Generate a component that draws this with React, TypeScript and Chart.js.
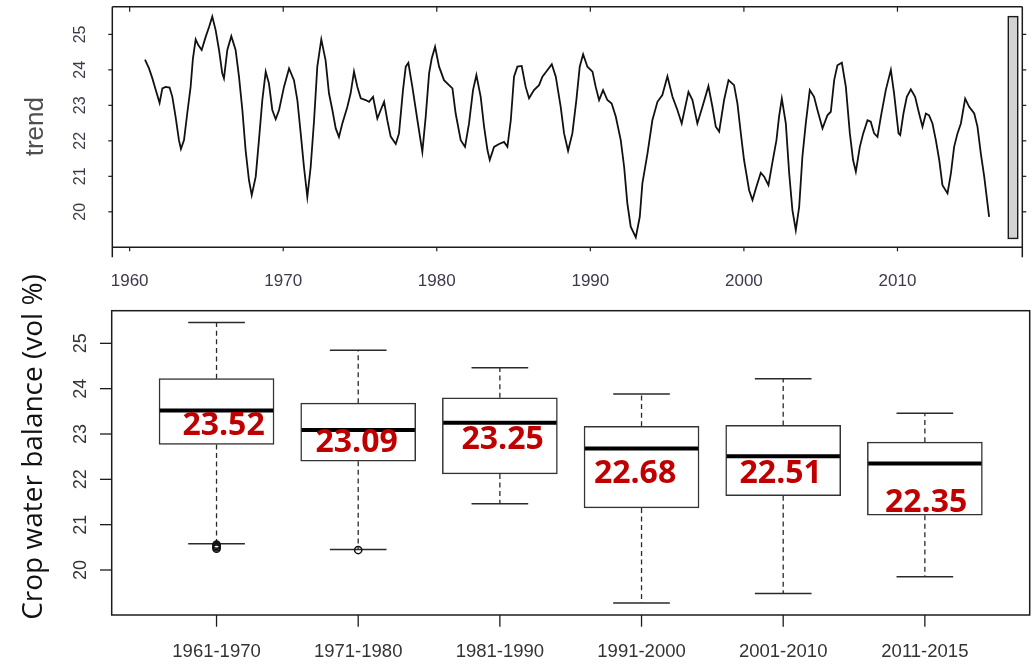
import React, { useEffect, useRef } from "react";
import { Chart, registerables } from "chart.js";

Chart.register(...registerables);

// ---------- Top panel: trend series ----------
const trendYears = [
  1961.0, 1961.26, 1961.48, 1961.69, 1961.95, 1962.13, 1962.34, 1962.6, 1962.78, 1962.99,
  1963.21, 1963.34, 1963.54, 1963.75, 1963.97, 1964.12, 1964.3, 1964.47, 1964.69, 1964.95,
  1965.17, 1965.38, 1965.6, 1965.82, 1966.03, 1966.14, 1966.36, 1966.62, 1966.9, 1967.12,
  1967.34, 1967.55, 1967.77, 1967.95, 1968.21, 1968.42, 1968.64, 1968.86, 1969.07, 1969.29,
  1969.51, 1969.73, 1970.05, 1970.38, 1970.7, 1970.92, 1971.14, 1971.35, 1971.57, 1971.79,
  1972.01, 1972.22, 1972.48, 1972.76, 1972.98, 1973.2, 1973.42, 1973.63,
  1973.85, 1974.18, 1974.39, 1974.61, 1974.83, 1975.05, 1975.37, 1975.59, 1975.85, 1976.13,
  1976.35, 1976.57, 1976.78, 1977.0, 1977.33, 1977.54, 1977.8, 1977.98, 1978.15, 1978.41,
  1978.74, 1979.06, 1979.28, 1979.5, 1979.67, 1979.89, 1980.15, 1980.47, 1980.8, 1981.02,
  1981.23, 1981.56, 1981.84, 1982.1, 1982.36, 1982.58, 1982.86, 1983.08, 1983.3, 1983.45,
  1983.73, 1984.06, 1984.38, 1984.6, 1984.82, 1985.03, 1985.25, 1985.53, 1985.79, 1986.01,
  1986.33, 1986.66, 1986.88, 1987.2, 1987.49, 1987.75,
  1988.07, 1988.29, 1988.55, 1988.83, 1989.09, 1989.31, 1989.53, 1989.81, 1990.14, 1990.35,
  1990.57, 1990.83, 1991.11, 1991.39, 1991.66, 1991.98, 1992.2, 1992.41, 1992.63, 1992.96,
  1993.22, 1993.39, 1993.72, 1994.04, 1994.37, 1994.69, 1995.02, 1995.35, 1995.67, 1995.95,
  1996.39, 1996.65, 1996.97, 1997.3, 1997.69, 1997.95, 1998.17, 1998.39, 1998.71, 1999.0,
  1999.36, 1999.58, 1999.8, 2000.01, 2000.34, 2000.56, 2000.82, 2001.1, 2001.32, 2001.6,
  2001.86,
  2002.12, 2002.29, 2002.47, 2002.73, 2002.95, 2003.16, 2003.38, 2003.6, 2003.81, 2004.03,
  2004.29, 2004.57, 2004.79, 2005.12, 2005.44, 2005.66, 2005.88, 2006.09, 2006.38, 2006.64,
  2006.9, 2007.11, 2007.29, 2007.55, 2007.77, 2008.05, 2008.26, 2008.48, 2008.7, 2008.92,
  2009.24, 2009.57, 2009.78, 2010.07, 2010.18, 2010.39, 2010.61, 2010.87, 2011.15, 2011.41,
  2011.63, 2011.85, 2012.06, 2012.28, 2012.5, 2012.72, 2012.93, 2013.26, 2013.48, 2013.69,
  2013.91, 2014.13, 2014.41, 2014.67, 2015.0, 2015.21, 2015.43, 2015.65, 2015.97,
];

const trendValues = [
  24.29, 24.04, 23.76, 23.45, 23.07, 23.48, 23.52, 23.5, 23.24, 22.68,
  22.02, 21.77, 22.02, 22.77, 23.52, 24.32, 24.86, 24.7, 24.56, 24.93,
  25.21, 25.5, 25.12, 24.56, 23.9, 23.76, 24.56, 24.95, 24.56, 23.81,
  22.87, 21.74, 20.89, 20.47, 20.99, 22.02, 23.15, 23.95, 23.62, 22.87,
  22.61, 22.87, 23.52, 24.04, 23.71, 23.15, 22.21, 21.27, 20.42, 21.27,
  22.58, 24.09, 24.86, 24.27, 23.34, 22.87, 22.35, 22.11,
  22.49, 22.96, 23.34, 23.95, 23.52, 23.2, 23.15, 23.1, 23.24, 22.63,
  22.87, 23.1, 22.58, 22.12, 21.91, 22.21, 23.43, 24.09, 24.2, 23.52,
  22.58, 21.69, 22.68, 23.9, 24.32, 24.65, 24.09, 23.71, 23.57, 23.48,
  22.77, 22.02, 21.83, 22.49, 23.43, 23.85, 23.24, 22.4, 21.74, 21.46,
  21.83, 21.91, 21.97, 21.83, 22.58, 23.81, 24.09, 24.11, 23.52, 23.2,
  23.43, 23.57, 23.81, 23.99, 24.16, 23.81,
  22.96, 22.21, 21.72, 22.21, 23.15, 24.09, 24.44, 24.09, 23.95, 23.52,
  23.15, 23.43, 23.15, 23.05, 22.68, 22.02, 21.27, 20.24, 19.58, 19.28,
  19.86, 20.8, 21.64, 22.58, 23.1, 23.29, 23.82, 23.24, 22.87, 22.49,
  23.38, 23.15, 22.49, 22.96, 23.54, 22.96, 22.4, 22.26, 23.15, 23.71,
  23.57, 23.05, 22.21, 21.46, 20.61, 20.33, 20.71, 21.1, 20.99, 20.75,
  21.4,
  22.02, 22.68, 23.19, 22.49, 21.08, 20.05, 19.48, 20.14, 21.55, 22.49,
  23.43, 23.24, 22.87, 22.35, 22.72, 22.82, 23.71, 24.13, 24.2, 23.52,
  22.21, 21.46, 21.13, 21.83, 22.21, 22.58, 22.54, 22.21, 22.11, 22.68,
  23.43, 24.0, 23.34, 22.21, 22.16, 22.77, 23.24, 23.45, 23.24, 22.77,
  22.4, 22.77, 22.72, 22.49, 22.02, 21.46, 20.75, 20.52, 21.08, 21.83,
  22.21, 22.49, 23.19, 22.96, 22.77, 22.4, 21.64, 20.99, 19.86,
];

const trendXTicks = [1960, 1970, 1980, 1990, 2000, 2010];
const trendYTicks = [20, 21, 22, 23, 24, 25];
const trendTitle = "trend";
const scaleBarRange = [19.25, 25.5];

// ---------- Bottom panel: box plots ----------
const periods = ["1961-1970", "1971-1980", "1981-1990", "1991-2000", "2001-2010", "2011-2015"];
const whiskerLow = [20.58, 20.45, 21.46, 19.27, 19.48, 19.85];
const quartile1 = [22.77, 22.4, 22.12, 21.37, 21.64, 21.21];
const medians = [23.52, 23.09, 23.25, 22.68, 22.51, 22.35];
const quartile3 = [24.22, 23.68, 23.8, 23.17, 23.19, 22.82];
const whiskerHigh = [25.46, 24.85, 24.46, 23.88, 24.22, 23.46];
const outlierGroup = [1, 1, 1, 1, 2];
const outlierValues = [20.47, 20.5, 20.53, 20.56, 20.44];
const medianLabels = ["23.52", "23.09", "23.25", "22.68", "22.51", "22.35"];
const boxYTicks = [20, 21, 22, 23, 24, 25];
const boxYTitle = "Crop water balance (vol %)";

// ---------- styles / layout ----------
const LABEL_DX = [7, -1.6, 2.7, -6.5, -2.5, 1.2];
const LABEL_DY = [24.6, 21.8, 26.6, 34.5, 27.1, 48.3];
const AXIS_COLOR = "#1c1c1c";
const TICK_TEXT_TOP = "#3f3849";
const TICK_TEXT_BOT = "#333333";
const ARIAL = '"Liberation Sans", Arial, sans-serif';

const BOT_TOP = 270;

function seg(ctx: CanvasRenderingContext2D, x1: number, y1: number, x2: number, y2: number) {
  ctx.beginPath();
  ctx.moveTo(x1, y1);
  ctx.lineTo(x2, y2);
  ctx.stroke();
}

function rotatedText(ctx: CanvasRenderingContext2D, text: string, x: number, y: number, font: string, color: string) {
  ctx.save();
  ctx.translate(x, y);
  ctx.rotate(-Math.PI / 2);
  ctx.font = font;
  ctx.fillStyle = color;
  ctx.textAlign = "center";
  ctx.textBaseline = "alphabetic";
  ctx.fillText(text, 0, 0);
  ctx.restore();
}

const trendFramePlugin = {
  id: "trendFrame",
  afterDraw(chart: any) {
    const { ctx, chartArea: a } = chart;
    const x = chart.scales.x;
    const y = chart.scales.y;
    ctx.save();
    ctx.strokeStyle = AXIS_COLOR;
    ctx.lineWidth = 1.5;
    seg(ctx, a.left, a.top, a.right, a.top);
    seg(ctx, a.left, a.bottom, a.right, a.bottom);
    seg(ctx, a.left, a.top, a.left, a.bottom + 10);
    seg(ctx, a.right, a.top, a.right, a.bottom + 10);
    ctx.lineWidth = 1.2;
    trendXTicks.forEach((t) => {
      const px = x.getPixelForValue(t);
      seg(ctx, px, a.bottom, px, a.bottom + 4);
      seg(ctx, px, a.top, px, a.top + 5);
    });
    trendYTicks.forEach((v) => {
      const py = y.getPixelForValue(v);
      seg(ctx, a.left - 4, py, a.left, py);
      seg(ctx, a.right, py, a.right + 4, py);
    });
    // scale bar
    const by0 = y.getPixelForValue(scaleBarRange[1]);
    const by1 = y.getPixelForValue(scaleBarRange[0]);
    ctx.fillStyle = "#d3d3d3";
    ctx.fillRect(a.right - 14, by0, 9.4, by1 - by0);
    ctx.lineWidth = 1.4;
    ctx.strokeRect(a.right - 14, by0, 9.4, by1 - by0);
    // tick labels
    ctx.fillStyle = TICK_TEXT_TOP;
    ctx.font = "17px " + ARIAL;
    ctx.textAlign = "center";
    ctx.textBaseline = "alphabetic";
    trendXTicks.forEach((t) => ctx.fillText(String(t), x.getPixelForValue(t), 285.7));
    trendYTicks.forEach((v) => rotatedText(ctx, String(v), 85, y.getPixelForValue(v), "16px " + ARIAL, TICK_TEXT_TOP));
    rotatedText(ctx, trendTitle, 42.7, 126.7, "26px " + ARIAL, "#4f4f4f");
    ctx.restore();
  },
};

const boxPlotPlugin = {
  id: "boxPlotExtras",
  beforeDatasetsDraw(chart: any) {
    const { ctx } = chart;
    const x = chart.scales.x;
    const y = chart.scales.y;
    ctx.save();
    ctx.strokeStyle = "#2a2a2a";
    periods.forEach((_, i) => {
      const c = x.getPixelForValue(i + 1);
      ctx.lineWidth = 1.3;
      ctx.setLineDash([5, 3.6]);
      seg(ctx, c, y.getPixelForValue(quartile3[i]), c, y.getPixelForValue(whiskerHigh[i]));
      seg(ctx, c, y.getPixelForValue(quartile1[i]), c, y.getPixelForValue(whiskerLow[i]));
      ctx.setLineDash([]);
      ctx.lineWidth = 1.5;
      const l = x.getPixelForValue(i + 1 - 0.2);
      const r = x.getPixelForValue(i + 1 + 0.2);
      seg(ctx, l, y.getPixelForValue(whiskerHigh[i]), r, y.getPixelForValue(whiskerHigh[i]));
      seg(ctx, l, y.getPixelForValue(whiskerLow[i]), r, y.getPixelForValue(whiskerLow[i]));
    });
    ctx.restore();
  },
  afterDatasetsDraw(chart: any) {
    const { ctx } = chart;
    const x = chart.scales.x;
    const y = chart.scales.y;
    ctx.save();
    ctx.strokeStyle = "#000";
    ctx.lineWidth = 4;
    periods.forEach((_, i) => {
      const l = x.getPixelForValue(i + 1 - 0.4);
      const r = x.getPixelForValue(i + 1 + 0.4);
      const py = y.getPixelForValue(medians[i]);
      seg(ctx, l, py, r, py);
    });
    ctx.fillStyle = "#c00000";
    ctx.font = 'bold 32px "Open Sans", "Noto Sans", sans-serif';
    ctx.textAlign = "center";
    ctx.textBaseline = "alphabetic";
    medianLabels.forEach((t, i) => {
      ctx.fillText(t, x.getPixelForValue(i + 1) + LABEL_DX[i], y.getPixelForValue(medians[i]) + LABEL_DY[i]);
    });
    ctx.restore();
  },
  afterDraw(chart: any) {
    const { ctx, chartArea: a } = chart;
    const x = chart.scales.x;
    const y = chart.scales.y;
    ctx.save();
    ctx.strokeStyle = AXIS_COLOR;
    ctx.lineWidth = 1.5;
    ctx.strokeRect(a.left, a.top, a.right - a.left, a.bottom - a.top);
    ctx.lineWidth = 1.3;
    periods.forEach((_, i) => {
      const px = x.getPixelForValue(i + 1);
      seg(ctx, px, a.bottom, px, a.bottom + 11.7);
    });
    boxYTicks.forEach((v) => {
      const py = y.getPixelForValue(v);
      seg(ctx, a.left - 11.7, py, a.left, py);
    });
    ctx.fillStyle = TICK_TEXT_BOT;
    ctx.font = "18.5px " + ARIAL;
    ctx.textAlign = "center";
    ctx.textBaseline = "alphabetic";
    periods.forEach((p, i) => ctx.fillText(p, x.getPixelForValue(i + 1), 656.7 - BOT_TOP));
    boxYTicks.forEach((v) => rotatedText(ctx, String(v), 86, y.getPixelForValue(v), "18px " + ARIAL, TICK_TEXT_BOT));
    rotatedText(ctx, boxYTitle, 42, 447 - BOT_TOP, '28px "Open Sans", "Noto Sans", sans-serif', "#111111");
    ctx.restore();
  },
};

export default function App() {
  const topRef = useRef<HTMLCanvasElement>(null);
  const botRef = useRef<HTMLCanvasElement>(null);

  useEffect(() => {
    const trendData = trendYears.map((yr, i) => ({ x: yr, y: trendValues[i] }));
    const top = new Chart(topRef.current as HTMLCanvasElement, {
      type: "line",
      data: {
        datasets: [
          {
            data: trendData,
            borderColor: "#111111",
            borderWidth: 1.8,
            pointRadius: 0,
            tension: 0,
            fill: false,
          },
        ],
      },
      options: {
        responsive: false,
        animation: false,
        events: [],
        layout: { padding: { left: 112.3, right: 13.7, top: 6.7, bottom: 42.7 } },
        plugins: { legend: { display: false }, tooltip: { enabled: false } },
        scales: {
          x: { type: "linear", display: false, min: 1958.87, max: 2018.13 },
          y: { type: "linear", display: false, min: 19.0, max: 25.78 },
        },
      },
      plugins: [trendFramePlugin],
    } as any);

    const boxData = periods.map((_, i) => ({ x: i + 1, y: [quartile1[i], quartile3[i]] }));
    const outData = outlierValues.map((v, i) => ({ x: outlierGroup[i], y: v }));
    const bot = new Chart(botRef.current as HTMLCanvasElement, {
      type: "bar",
      data: {
        datasets: [
          {
            type: "bar",
            data: boxData,
            backgroundColor: "#ffffff",
            borderColor: "#333333",
            borderWidth: 1.5,
            borderSkipped: false,
            barThickness: 115,
          },
          {
            type: "scatter",
            data: outData,
            pointRadius: 3.6,
            pointBorderWidth: 1.5,
            pointBorderColor: "#111111",
            pointBackgroundColor: "rgba(0,0,0,0)",
            borderColor: "#111111",
            backgroundColor: "rgba(0,0,0,0)",
            showLine: false,
          },
        ],
      },
      options: {
        responsive: false,
        animation: false,
        events: [],
        layout: { padding: { left: 111.7, right: 6.3, top: 40.7, bottom: 50 } },
        plugins: { legend: { display: false }, tooltip: { enabled: false } },
        scales: {
          x: { type: "linear", display: false, min: 0.26, max: 6.74, offset: false },
          y: { type: "linear", display: false, min: 19.007, max: 25.72, beginAtZero: false },
        },
      },
      plugins: [boxPlotPlugin],
    } as any);

    return () => {
      top.destroy();
      bot.destroy();
    };
  }, []);

  return (
    <div style={{ position: "fixed", left: 0, top: 0, width: 1036, height: 665, background: "#ffffff" }}>
      <canvas ref={topRef} width={1036} height={290} style={{ position: "absolute", left: 0, top: 0 }} />
      <canvas ref={botRef} width={1036} height={395} style={{ position: "absolute", left: 0, top: BOT_TOP }} />
    </div>
  );
}
